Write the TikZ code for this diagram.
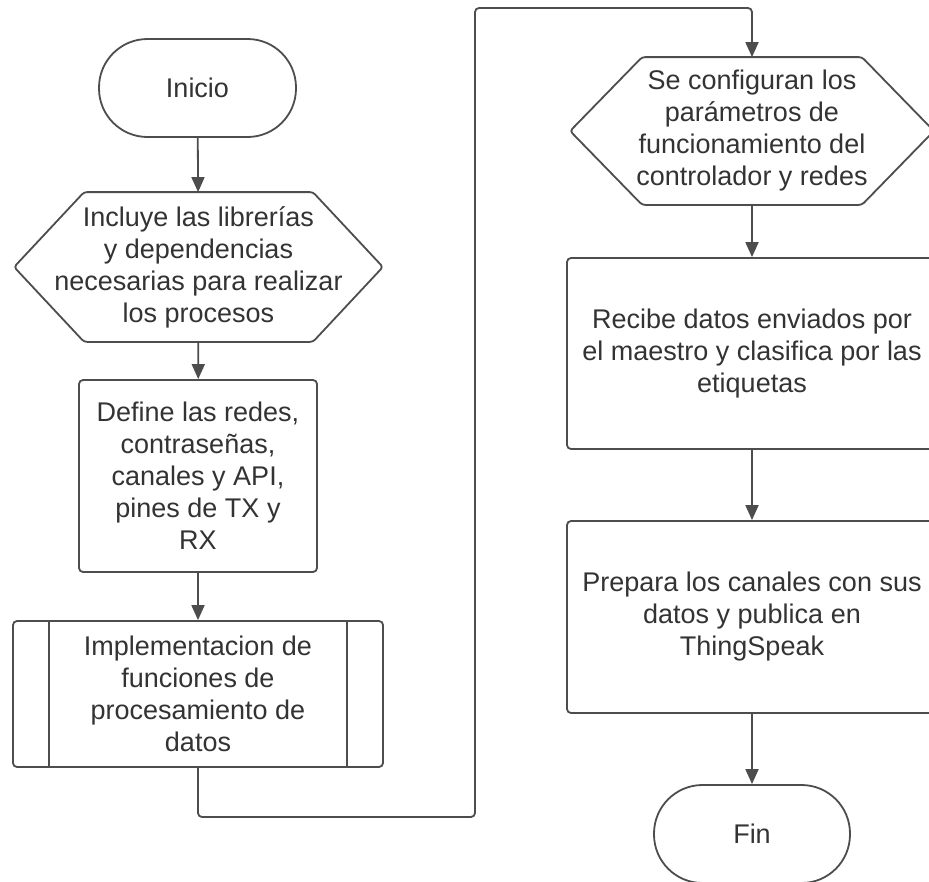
\documentclass[tikz,border=0pt]{standalone}
\usepackage{fontspec}
\setmainfont{Liberation Sans}
\usetikzlibrary{arrows.meta}
\definecolor{linecol}{HTML}{4D4D4D}
\definecolor{txtcol}{HTML}{333333}
\begin{document}
\begin{tikzpicture}[x=1pt,y=-1pt,
  base/.style={draw=linecol, line width=1.8pt, text=txtcol, align=center, inner sep=0pt,
    font=\fontsize{27}{32}\selectfont},
  term/.style={base, rounded corners=48.5pt, minimum width=197pt, minimum height=98pt},
  proc/.style={base, rounded corners=4pt},
  hexnode/.style={base, draw=none},
  hexline/.style={draw=linecol, line width=1.8pt, rounded corners=3pt, line join=round},
  subline/.style={draw=linecol, line width=1.8pt},
  conn/.style={draw=linecol, line width=1.8pt, rounded corners=4pt,
    -{Triangle[length=15pt,width=13pt]}}
]
\clip (0,0) rectangle (929,881);
\fill[white] (0,0) rectangle (929,881);

% left column
\node[term] (inicio) at (197.5,88) {Inicio};

\node[hexnode, minimum width=367pt, minimum height=148pt] (incl) at (198.5,267)
  {Incluye las librerías\\y dependencias\\necesarias para realizar\\los procesos};
\draw[hexline] (incl.west) -- ([xshift=70pt]incl.north west) -- ([xshift=-70pt]incl.north east)
  -- (incl.east) -- ([xshift=-70pt]incl.south east) -- ([xshift=70pt]incl.south west) -- cycle;

\node[proc, minimum width=238pt, minimum height=192pt] (define) at (198,476)
  {Define las redes,\\contraseñas,\\canales y API,\\pines de TX y\\RX};

\node[proc, minimum width=370pt, minimum height=146pt] (impl) at (198,694)
  {Implementacion de\\funciones de\\procesamiento de\\datos};
\draw[subline] ([xshift=37pt]impl.north west) -- ([xshift=37pt]impl.south west);
\draw[subline] ([xshift=-37pt]impl.north east) -- ([xshift=-37pt]impl.south east);

% right column
\node[hexnode, minimum width=362pt, minimum height=146pt] (conf) at (752,131)
  {Se configuran los\\parámetros de\\funcionamiento del\\controlador y redes};
\draw[hexline] (conf.west) -- ([xshift=72pt]conf.north west) -- ([xshift=-72pt]conf.north east)
  -- (conf.east) -- ([xshift=-72pt]conf.south east) -- ([xshift=72pt]conf.south west) -- cycle;

\node[proc, minimum width=370pt, minimum height=191pt] (recibe) at (752,353.5)
  {Recibe datos enviados por\\el maestro y clasifica por las\\etiquetas};

\node[proc, minimum width=370pt, minimum height=192pt] (prepara) at (752,617)
  {Prepara los canales con sus\\datos y publica en\\ThingSpeak};

\node[term, minimum width=196pt] (fin) at (752,834) {Fin};

% connectors
\coordinate (loopA) at (475,817);
\coordinate (loopB) at (475,8);
\draw[conn] (inicio) -- (incl);
\draw[conn] (incl) -- (define);
\draw[conn] (define) -- (impl);
\draw[conn] (impl.south) |- (loopA) -- (loopB) -| (conf.north);
\draw[conn] (conf) -- (recibe);
\draw[conn] (recibe) -- (prepara);
\draw[conn] (prepara) -- (fin);
\end{tikzpicture}
\end{document}
